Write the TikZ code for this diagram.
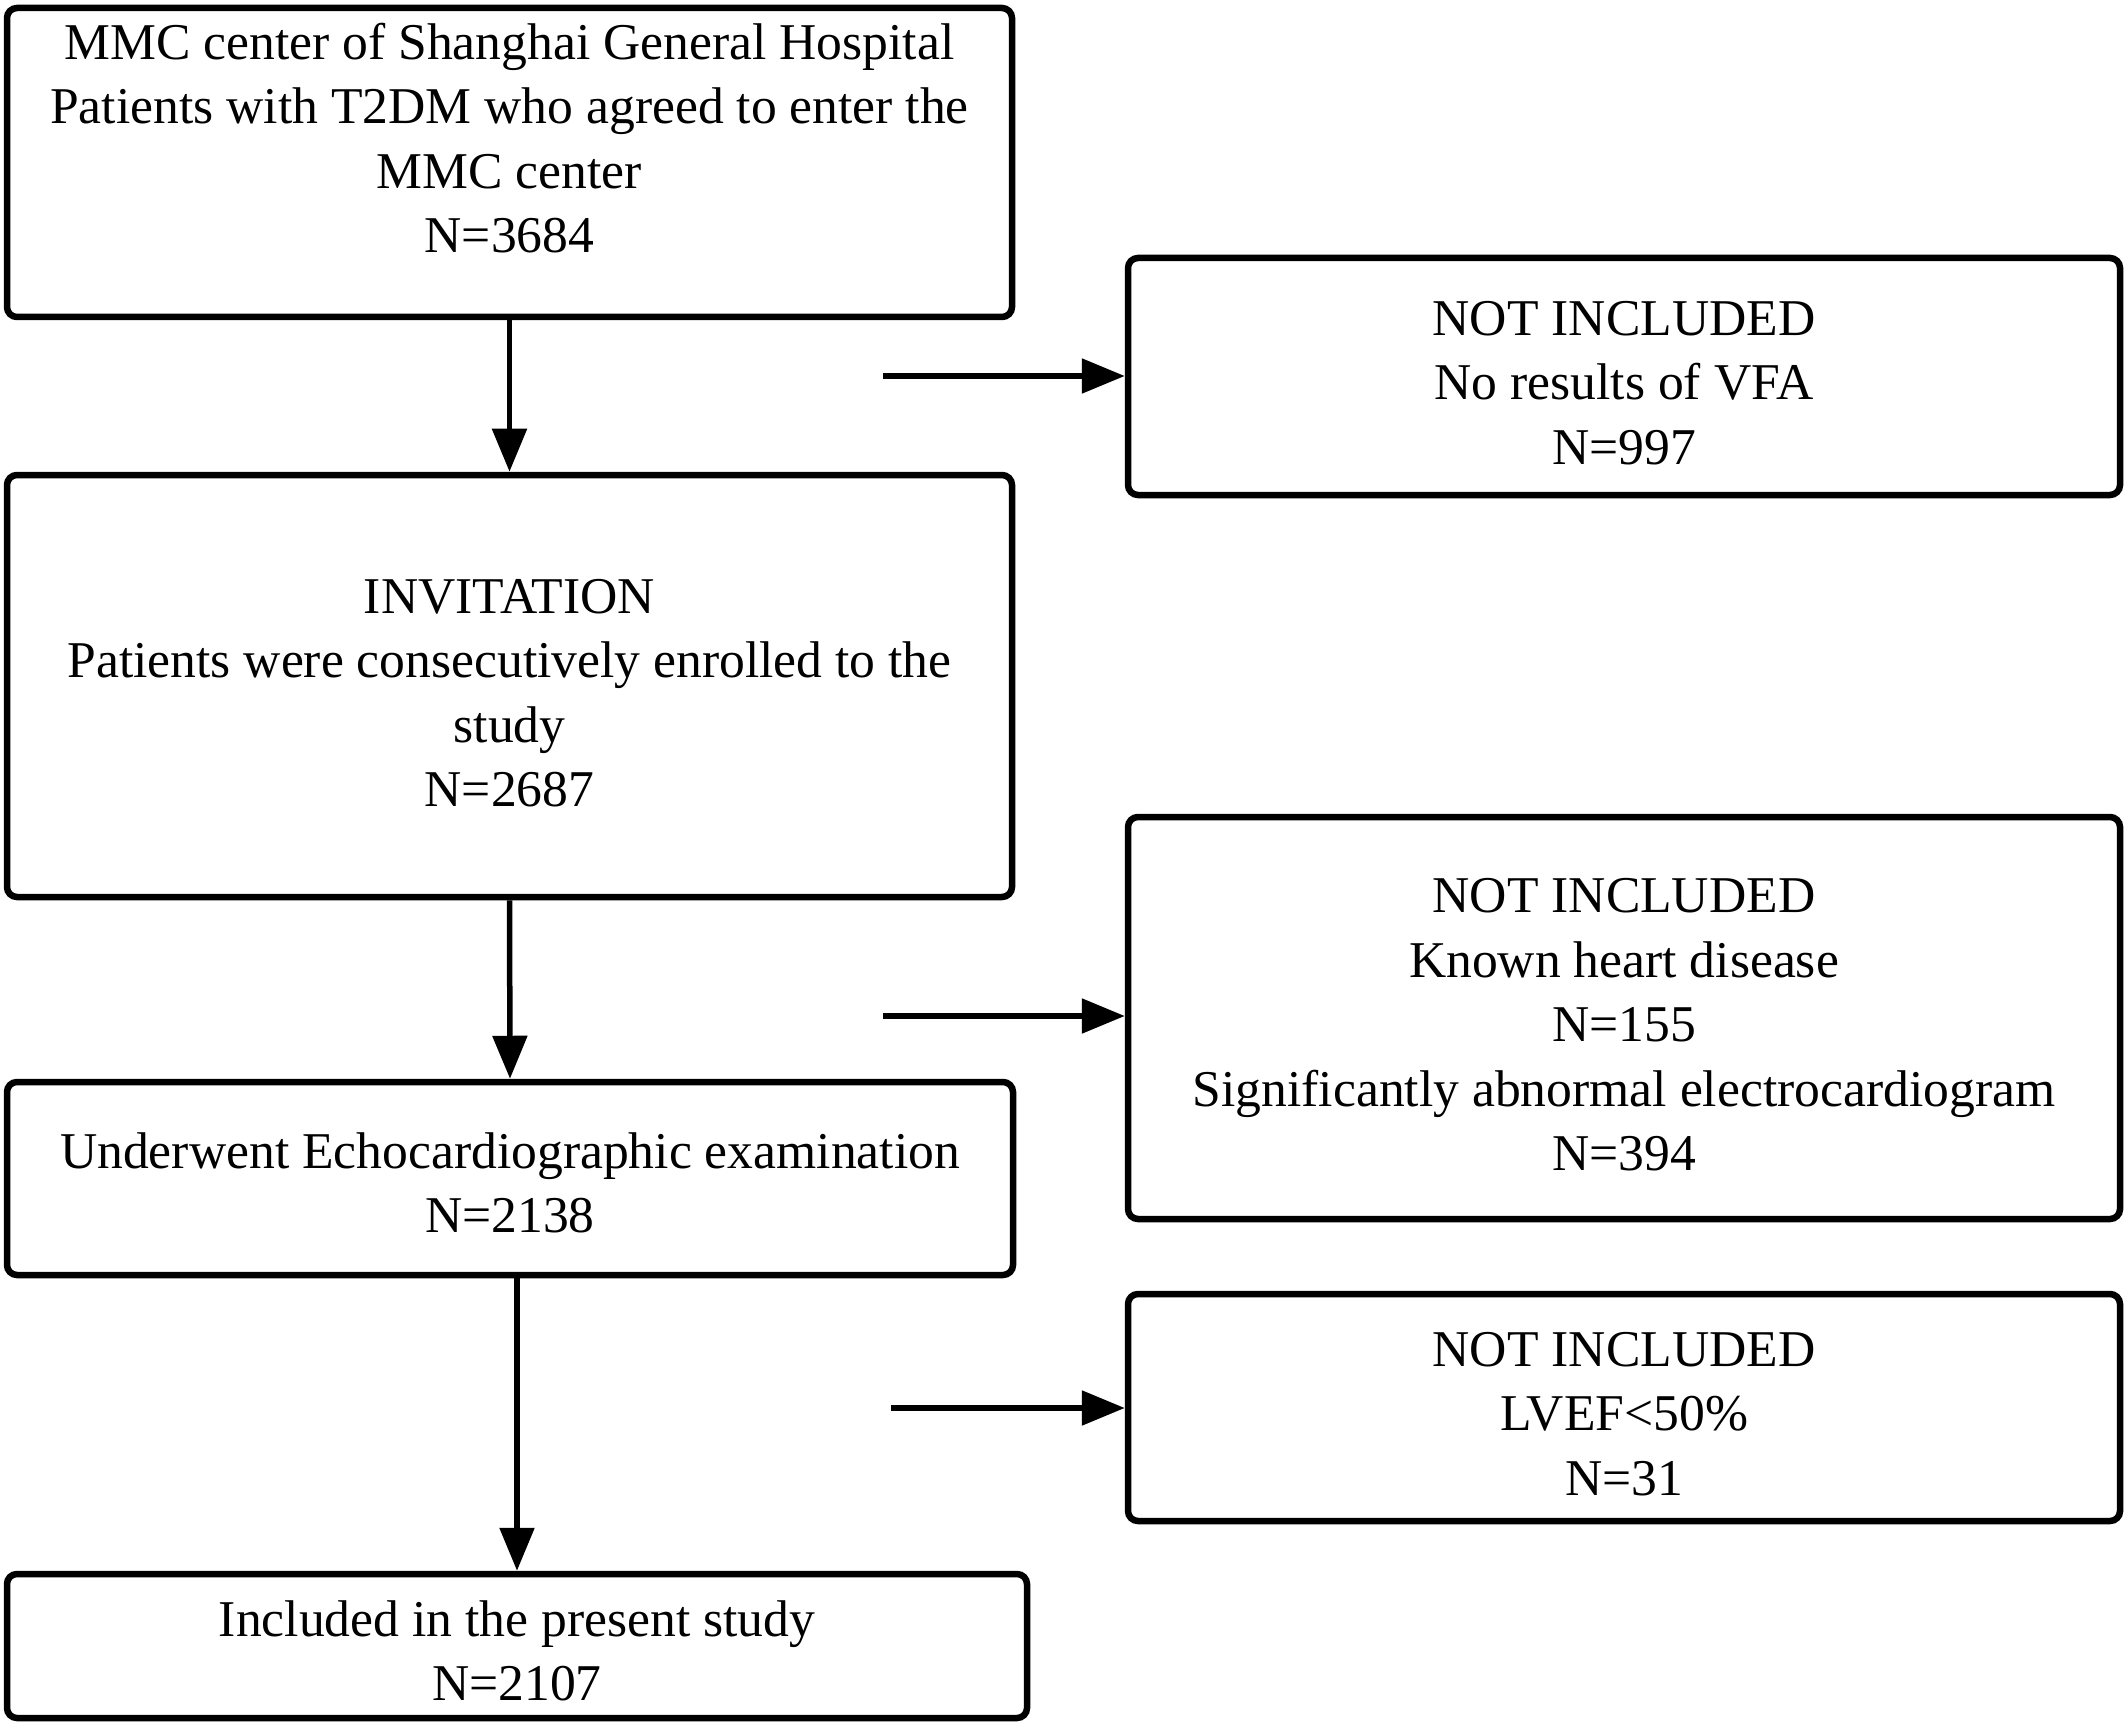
\documentclass[tikz,border=0pt]{standalone}
\usepackage{fontspec}
\setmainfont{Liberation Serif}
\usetikzlibrary{arrows.meta}
\tikzset{
  box/.style={draw=black, line width=3.25pt, rounded corners=5pt, inner sep=0pt, fill=white},
  txt/.style={align=center, font=\fontsize{25.8}{32.25}\selectfont, inner sep=0pt},
  flow/.style={line width=2.75pt, -{Triangle[length=21.5pt, width=17pt]}},
}
\begin{document}
\begin{tikzpicture}[x=0.5pt, y=-0.5pt]
\useasboundingbox (0,0) rectangle (2128,1727);
% left column
\node[box, minimum width=502.5pt, minimum height=154.5pt] (b1) at (509.5,162.5) {};
\node[txt] (t1) at (509.5,138) {MMC center of Shanghai General Hospital\\Patients with T2DM who agreed to enter the\\MMC center\\N=3684};
\node[box, minimum width=502.5pt, minimum height=211pt] (b2) at (509.5,686) {};
\node[txt] (t2) at (509.5,693) {INVITATION\\Patients were consecutively enrolled to the\\study\\N=2687};
\node[box, minimum width=503pt, minimum height=96.5pt] (b3) at (510,1178.5) {};
\node[txt] (t3) at (510,1183) {Underwent Echocardiographic examination\\N=2138};
\node[box, minimum width=510pt, minimum height=72pt] (b4) at (517,1646) {};
\node[txt] (t4) at (517,1651) {Included in the present study\\N=2107};
% right column
\node[box, minimum width=496pt, minimum height=118.5pt] (n1) at (1624,376.5) {};
\node[txt] (m1) at (1624,383) {NOT INCLUDED\\No results of VFA\\N=997};
\node[box, minimum width=496pt, minimum height=201pt] (n2) at (1624,1018) {};
\node[txt] (m2) at (1624,1025) {NOT INCLUDED\\Known heart disease\\N=155\\Significantly abnormal electrocardiogram\\N=394};
\node[box, minimum width=496pt, minimum height=113.5pt] (n3) at (1624,1407.5) {};
\node[txt] (m3) at (1624,1414) {NOT INCLUDED\\LVEF<50\%\\N=31};
% free ends of the side arrows
\coordinate (c1) at (883,376);
\coordinate (c2) at (883,1016);
\coordinate (c3) at (891,1408);
% connectors
\draw[flow] (b1.south) -- (b2.north);
\draw[flow] (b2.south) -- (b3.north);
\draw[flow] (b3.south -| b4.north) -- (b4.north);
\draw[flow] (c1) -- (c1 -| n1.west);
\draw[flow] (c2) -- (c2 -| n2.west);
\draw[flow] (c3) -- (c3 -| n3.west);
\end{tikzpicture}
\end{document}
